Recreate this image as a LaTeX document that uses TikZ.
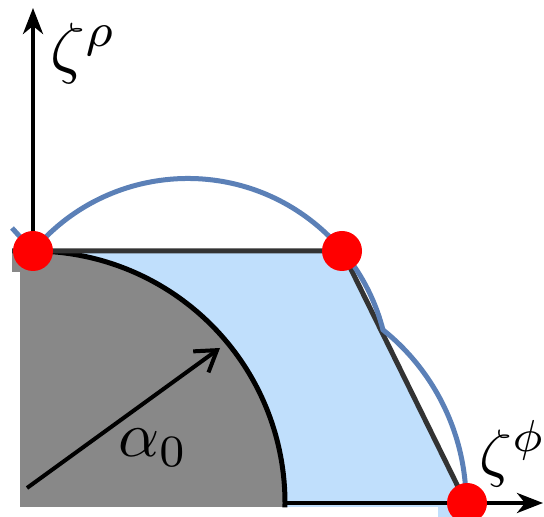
\documentclass[tikz,border=0pt]{standalone}
\usetikzlibrary{arrows.meta}
\definecolor{fillblue}{RGB}{192,223,252}
\definecolor{arcblue}{RGB}{91,128,183}
\definecolor{diskgray}{RGB}{136,136,136}
\definecolor{edgegray}{RGB}{51,51,51}
\tikzset{
  axisline/.style={line width=2pt,-{Stealth[length=13pt,width=10pt,inset=4pt]}},
  edgeline/.style={edgegray,line width=2.5pt},
  circarc/.style={arcblue,line width=2.5pt},
  reddot/.style={fill=red},
  lab/.style={inner sep=0pt,scale=3.2},
  zlab/.style={inner sep=0pt,scale=3.4},
}
\begin{document}
\begin{tikzpicture}[x=0.5pt,y=0.5pt]
\useasboundingbox (0,0) rectangle (544,517);
\coordinate (O) at (33,14);
\coordinate (P1) at (33,266);
\coordinate (P2) at (342,266);
\coordinate (P3) at (467,14);
\coordinate (Ytip) at (33,509);
\coordinate (Xtip) at (543,14);
\coordinate (L0) at (12,266);
\coordinate (B0) at (466,14);
\coordinate (A0) at (27,29);
\coordinate (A1) at (220,169);
\coordinate (BL) at (12,289);
% light blue region
\fill[fillblue] (20,266) -- (P2) -- (B0) -- (470,0) -- (438,0) -- (438,10) -- (20,10) -- cycle;
% axes
\draw[axisline] (O) -- (Ytip);
\draw[axisline] (O) -- (Xtip);
% gray disk
\begin{scope}
\clip (20,10) rectangle (300,275);
\fill[diskgray] (O) circle[radius=252];
\end{scope}
\fill[diskgray] (12,245) rectangle (20,268);
\draw[line width=2.5pt] (P1) arc[start angle=90,end angle=-1,radius=252];
% polygon edges
\draw[edgeline] (L0) -- (P2) -- (B0);
% blue arcs
\draw[circarc] (P1) arc[start angle=140.2,end angle=14.4,radius=201.5]
  arc[start angle=51.3,end angle=0,radius=221.8];
\draw[circarc] (BL) -- (P1);
% radius arrow
\draw[line width=2pt,-{Straight Barb[length=10pt,width=13pt]}] (A0) -- (A1);
% dots
\fill[reddot] (P1) circle[radius=20];
\fill[reddot] (P2) circle[radius=20];
\fill[reddot] (P3) circle[radius=20];
% labels
\node[zlab,anchor=base west] (zr) at (49,446) {$\zeta^{\rho}$};
\node[lab,anchor=base west] (zp) at (478,42) {$\zeta^{\phi}$};
\node[lab,anchor=base west] (al) at (117,60) {$\alpha_0$};
\end{tikzpicture}
\end{document}
